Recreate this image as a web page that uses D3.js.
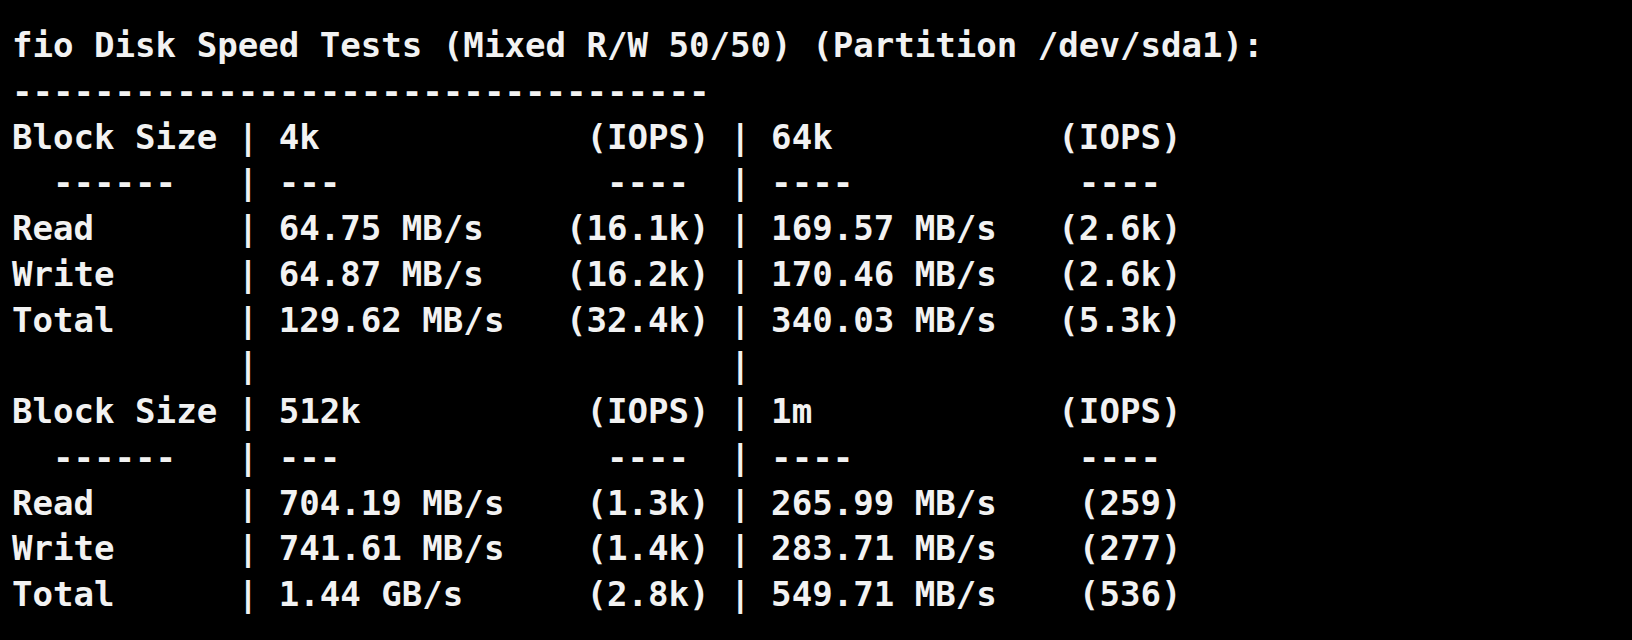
<!DOCTYPE html>
<html><head><meta charset="utf-8">
<script src="https://cdn.jsdelivr.net/npm/d3@7"></script>
<style>html,body{margin:0;padding:0;background:#000;}</style>
</head><body>
<script>
const title = "fio Disk Speed Tests (Mixed R/W 50/50) (Partition /dev/sda1):";
const blockSizes = ["4k", "64k", "512k", "1m"];
const readSpeed  = ["64.75 MB/s", "169.57 MB/s", "704.19 MB/s", "265.99 MB/s"];
const writeSpeed = ["64.87 MB/s", "170.46 MB/s", "741.61 MB/s", "283.71 MB/s"];
const totalSpeed = ["129.62 MB/s", "340.03 MB/s", "1.44 GB/s", "549.71 MB/s"];
const readIops   = ["16.1k", "2.6k", "1.3k", "259"];
const writeIops  = ["16.2k", "2.6k", "1.4k", "277"];
const totalIops  = ["32.4k", "5.3k", "2.8k", "536"];

function row(label, a, aI, b, bI) {
  return label.padEnd(11) + "| " + (a + aI.padStart(21 - a.length)) + " | " + (b + bI.padStart(20 - b.length));
}
const dashRow = "  ------".padEnd(11) + "| " + ("---".padEnd(16) + "----").padEnd(21) + " | " + ("----".padEnd(15) + "----");
const lines = [title, "-".repeat(34)];
for (let g = 0; g < 2; g++) {
  const i = g * 2, j = g * 2 + 1;
  if (g === 1) lines.push("".padEnd(11) + "|" + "".padEnd(23) + "|");
  lines.push(row("Block Size ", blockSizes[i], "(IOPS)", blockSizes[j], "(IOPS)"));
  lines.push(dashRow);
  lines.push(row("Read", readSpeed[i], "(" + readIops[i] + ")", readSpeed[j], "(" + readIops[j] + ")"));
  lines.push(row("Write", writeSpeed[i], "(" + writeIops[i] + ")", writeSpeed[j], "(" + writeIops[j] + ")"));
  lines.push(row("Total", totalSpeed[i], "(" + totalIops[i] + ")", totalSpeed[j], "(" + totalIops[j] + ")"));
}

const W = 1632, H = 640;
const svg = d3.select("body").append("svg").attr("width", W).attr("height", H);
svg.append("rect").attr("width", W).attr("height", H).attr("fill", "#000");
const y = d3.scaleLinear().domain([0, 12]).range([57, 606]);
svg.selectAll("text.l").data(lines).join("text")
  .attr("class", "l")
  .attr("x", 12).attr("y", (d, i) => y(i))
  .attr("xml:space", "preserve").style("white-space", "pre")
  .attr("font-family", "'DejaVu Sans Mono', 'Liberation Mono', monospace")
  .attr("font-weight", "bold").attr("font-size", 34.1)
  .attr("fill", "#f2f2f2")
  .text(d => d);
</script>
</body></html>
